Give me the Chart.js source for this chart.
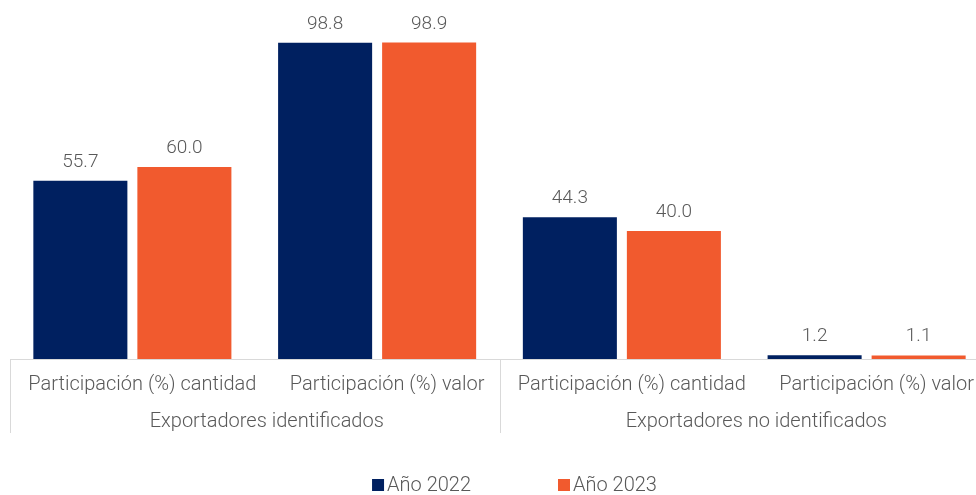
<!DOCTYPE html>
<html>
<head>
<meta charset="utf-8">
<script src="https://cdn.jsdelivr.net/npm/chart.js@4.4.1/dist/chart.umd.min.js"></script>
<style>
  html, body { margin: 0; padding: 0; background: #fff; overflow: hidden; }
  #wrap { position: relative; width: 990px; height: 495px; }
</style>
</head>
<body>
<div id="wrap"><canvas id="chart"></canvas></div>
<script>
// Participación de exportadores, 2022 vs 2023
const categories = [
  "Participación (%) cantidad",
  "Participación (%) valor",
  "Participación (%) cantidad",
  "Participación (%) valor"
];
const groups = ["Exportadores identificados", "Exportadores no identificados"];
const seriesNames = ["Año 2022", "Año 2023"];
const values2022 = [55.7, 98.8, 44.3, 1.2];
const values2023 = [60.0, 98.9, 40.0, 1.1];

const COLORS = ["#002060", "#F15A2E"];
const TEXT = "#595959";
const RULE = "#D9D9D9";
const FONT = "Roboto, 'Noto Sans', sans-serif";

// numbers above each bar
const valueLabels = {
  id: "valueLabels",
  afterDatasetsDraw(chart) {
    const ctx = chart.ctx;
    ctx.save();
    ctx.font = `300 19px ${FONT}`;
    ctx.fillStyle = TEXT;
    ctx.textAlign = "center";
    ctx.textBaseline = "alphabetic";
    chart.data.datasets.forEach((ds, di) => {
      chart.getDatasetMeta(di).data.forEach((bar, i) => {
        ctx.fillText(ds.data[i].toFixed(1), bar.x, bar.y - 14);
      });
    });
    ctx.restore();
  }
};

// vertical rules that box the two label groups under the axis
const groupRules = {
  id: "groupRules",
  afterDraw(chart) {
    const x = chart.scales.x, x2 = chart.scales.x2;
    const step = (x.right - x.left) / categories.length;
    const ctx = chart.ctx;
    ctx.save();
    ctx.strokeStyle = RULE;
    ctx.lineWidth = 1;
    for (let k = 0; k <= categories.length; k += 2) {
      const px = Math.round(x.left + k * step) + 0.5;
      ctx.beginPath();
      ctx.moveTo(px, x.top);
      ctx.lineTo(px, x2.bottom + 2);
      ctx.stroke();
    }
    ctx.restore();
  }
};

// square-marker legend at the bottom
const bottomLegend = {
  id: "bottomLegend",
  afterDraw(chart) {
    const ctx = chart.ctx;
    ctx.save();
    ctx.font = `300 20px ${FONT}`;
    ctx.textBaseline = "alphabetic";
    ctx.textAlign = "left";
    const box = 12, gapText = 3, gapItem = 87;
    const items = chart.data.datasets.map(ds => ({
      label: ds.label, color: ds.backgroundColor,
      w: box + gapText + ctx.measureText(ds.label).width
    }));
    const total = items.reduce((s, it) => s + it.w, 0) + gapItem * (items.length - 1);
    const centre = (chart.chartArea.left + chart.chartArea.right) / 2 + 15;
    let cx = centre - total / 2;
    const base = 491;
    items.forEach(it => {
      ctx.fillStyle = it.color;
      ctx.fillRect(cx, base - box, box, box);
      ctx.fillStyle = TEXT;
      ctx.fillText(it.label, cx + box + gapText, base);
      cx += it.w + gapItem;
    });
    ctx.restore();
  }
};

new Chart(document.getElementById("chart"), {
  type: "bar",
  data: {
    labels: categories,
    datasets: [
      { label: seriesNames[0], data: values2022, backgroundColor: COLORS[0] },
      { label: seriesNames[1], data: values2023, backgroundColor: COLORS[1] }
    ]
  },
  options: {
    responsive: true,
    maintainAspectRatio: false,
    animation: false,
    barPercentage: 0.904,
    categoryPercentage: 0.85,
    layout: { padding: { top: 39, bottom: 64, left: 10, right: 1 } },
    plugins: {
      legend: { display: false },
      tooltip: { enabled: false }
    },
    scales: {
      y: { display: false, min: 0, max: 100 },
      x: {
        position: "bottom",
        weight: 0,
        grid: { display: false, drawTicks: false },
        border: { display: true, color: RULE, width: 1 },
        ticks: {
          color: TEXT, font: { family: FONT, size: 20, weight: 300 },
          padding: 14, labelOffset: 10, maxRotation: 0, autoSkip: false
        },
        afterFit(scale) { scale.height = 35; }
      },
      x2: {
        type: "category",
        labels: groups,
        offset: true,
        position: "bottom",
        weight: 1,
        grid: { display: false, drawTicks: false },
        border: { display: false },
        ticks: {
          color: TEXT, font: { family: FONT, size: 20, weight: 300 },
          padding: 16, labelOffset: 12, maxRotation: 0, autoSkip: false
        },
        afterFit(scale) { scale.height = 37; }
      }
    }
  },
  plugins: [valueLabels, groupRules, bottomLegend]
});
</script>
</body>
</html>
